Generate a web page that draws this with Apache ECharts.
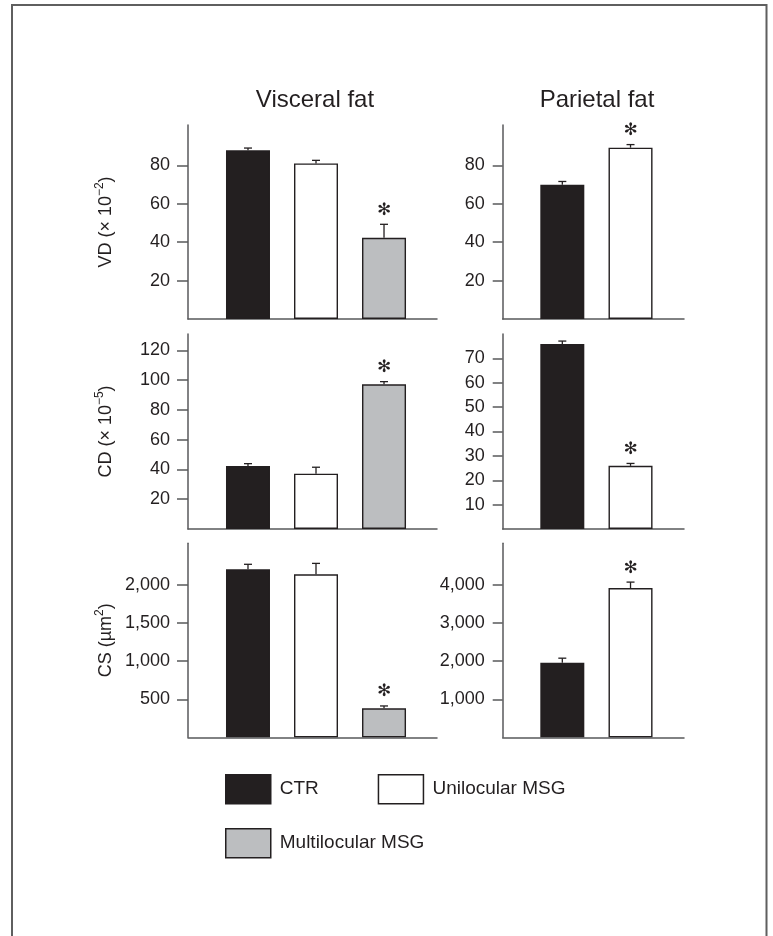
<!DOCTYPE html>
<html>
<head>
<meta charset="utf-8">
<script src="https://cdn.jsdelivr.net/npm/echarts@6/dist/echarts.min.js"></script>
<style>
html,body{margin:0;padding:0;background:#fff;}
#chart{width:773px;height:936px;}
</style>
</head>
<body>
<div id="chart"></div>
<script>
// ---- data ----
const groups = ['CTR', 'Unilocular MSG', 'Multilocular MSG'];
const columnTitles = ['Visceral fat', 'Parietal fat'];
const rowNames = ['{a|VD (× 10}{s|−2}{a|)}', '{a|CD (× 10}{s|−5}{a|)}', '{a|CS (µm}{s|2}{a|)}'];

const vdVisceral = [87.8, 81.0, 42.3];
const vdVisceralErr = [1.2, 1.6, 7.0];
const vdParietal = [69.9, 89.2];
const vdParietalErr = [1.7, 1.6];

const cdVisceral = [42.3, 37.2, 97.2];
const cdVisceralErr = [1.6, 4.3, 1.8];
const cdParietal = [75.9, 25.9];
const cdParietalErr = [1.2, 1.0];

const csVisceral = [2208, 2142, 382];
const csVisceralErr = [66, 144, 30];
const csParietal = [1957, 3924];
const csParietalErr = [123, 156];

const sigVisceral = [0, 0, 1];
const sigParietal = [0, 1];

const vdTicks = [20, 40, 60, 80];
const cdVisceralTicks = [20, 40, 60, 80, 100, 120];
const cdParietalTicks = [10, 20, 30, 40, 50, 60, 70];
const csVisceralTicks = [500, 1000, 1500, 2000];
const csParietalTicks = [1000, 2000, 3000, 4000];

// ---- layout / style ----
const INK = '#231f20';
const AXIS = '#58595b';
const fills = ['#231f20', '#ffffff', '#bcbec0'];
const FONT = '"Liberation Sans", Arial, sans-serif';

const colLeft = [188, 502.7];
const colWidth = [249, 181.3];
const colXRange = [[-0.882, 2.779], [-0.874, 1.784]];
const rowTop = [125, 334, 543.3];
const rowHeight = [194, 195, 194];

const panels = [
  {row: 0, col: 0, vals: vdVisceral, err: vdVisceralErr, sig: sigVisceral, ticks: vdTicks, max: 101},
  {row: 0, col: 1, vals: vdParietal, err: vdParietalErr, sig: sigParietal, ticks: vdTicks, max: 101},
  {row: 1, col: 0, vals: cdVisceral, err: cdVisceralErr, sig: sigVisceral, ticks: cdVisceralTicks, max: 131},
  {row: 1, col: 1, vals: cdParietal, err: cdParietalErr, sig: sigParietal, ticks: cdParietalTicks, max: 80},
  {row: 2, col: 0, vals: csVisceral, err: csVisceralErr, sig: sigVisceral, ticks: csVisceralTicks, max: 2550},
  {row: 2, col: 1, vals: csParietal, err: csParietalErr, sig: sigParietal, ticks: csParietalTicks, max: 5100}
];

const grid = [], xAxis = [], yAxis = [], series = [];
panels.forEach((p, k) => {
  grid.push({left: colLeft[p.col], top: rowTop[p.row], width: colWidth[p.col], height: rowHeight[p.row], containLabel: false});
  xAxis.push({
    type: 'value', gridIndex: k, min: colXRange[p.col][0], max: colXRange[p.col][1],
    axisLine: {show: true, onZero: false, lineStyle: {color: AXIS, width: 1.5}},
    axisTick: {show: false}, axisLabel: {show: false}, splitLine: {show: false}
  });
  yAxis.push({
    type: 'value', gridIndex: k, min: 0, max: p.max,
    name: p.col === 0 ? rowNames[p.row] : '',
    nameLocation: 'middle', nameRotate: 90, nameGap: 70,
    nameTextStyle: {
      fontFamily: FONT, fontSize: 18, color: INK,
      rich: {
        a: {fontFamily: FONT, fontSize: 18, color: INK, lineHeight: 24},
        s: {fontFamily: FONT, fontSize: 12, color: INK, lineHeight: 14, verticalAlign: 'top'}
      }
    },
    axisLine: {show: true, onZero: false, lineStyle: {color: AXIS, width: 1.5}},
    axisTick: {show: true, length: p.col === 0 ? 11 : 10, customValues: p.ticks, lineStyle: {color: AXIS, width: 1.5}},
    axisLabel: {
      show: true, customValues: p.ticks, margin: 18,
      fontFamily: FONT, fontSize: 18, color: INK,
      formatter: v => Number(v).toLocaleString('en-US')
    },
    splitLine: {show: false}
  });
  p.vals.forEach((v, i) => {
    series.push({
      type: 'bar', name: groups[i], xAxisIndex: k, yAxisIndex: k,
      barWidth: 44, barGap: '-100%',
      data: [[i, v]],
      itemStyle: {color: fills[i], borderColor: INK, borderWidth: 1.4},
      emphasis: {disabled: true}, silent: true, z: 2
    });
  });
  series.push({
    type: 'custom', xAxisIndex: k, yAxisIndex: k, z: 5, silent: true,
    encode: {x: 0, y: 1},
    data: p.vals.map((v, i) => [i, v, p.err[i], p.sig[i]]),
    renderItem: function (params, api) {
      const x = api.value(0), v = api.value(1), e = api.value(2), s = api.value(3);
      const top = api.coord([x, v]);
      const cap = api.coord([x, v + e]);
      const children = [
        {type: 'line', shape: {x1: top[0], y1: top[1], x2: cap[0], y2: cap[1]}, style: {stroke: INK, lineWidth: 1.3}},
        {type: 'line', shape: {x1: cap[0] - 4, y1: cap[1], x2: cap[0] + 4, y2: cap[1]}, style: {stroke: INK, lineWidth: 1.3}}
      ];
      if (s) {
        children.push({type: 'text', x: cap[0], y: cap[1] - 14,
          style: {text: '✻', font: '17px "DejaVu Sans"', fill: INK, align: 'center', verticalAlign: 'middle'}});
      }
      return {type: 'group', children: children};
    }
  });
});

function legendItem(i, left, top) {
  return {
    data: [{name: groups[i], icon: 'rect', itemStyle: {color: fills[i], borderColor: INK, borderWidth: 1.5}}],
    left: left, top: top, padding: 0, itemWidth: 45, itemHeight: 29,
    selectedMode: false,
    textStyle: {fontFamily: FONT, fontSize: 19, color: INK, padding: [0, 0, 0, 4]}
  };
}

const chart = echarts.init(document.getElementById('chart'), null, {renderer: 'canvas'});
chart.setOption({
  backgroundColor: '#fff',
  animation: false,
  grid: grid, xAxis: xAxis, yAxis: yAxis, series: series,
  legend: [legendItem(0, 225, 774), legendItem(1, 377.7, 774), legendItem(2, 225, 828)],
  graphic: [
    {type: 'rect', shape: {x: 12, y: 5, width: 754.5, height: 1000}, style: {fill: 'none', stroke: '#5f5f5f', lineWidth: 2}, silent: true},
    {type: 'text', x: 315, y: 100, style: {text: columnTitles[0], font: '24px ' + FONT, fill: INK, align: 'center', verticalAlign: 'middle'}},
    {type: 'text', x: 597, y: 100, style: {text: columnTitles[1], font: '24px ' + FONT, fill: INK, align: 'center', verticalAlign: 'middle'}}
  ]
});
</script>
</body>
</html>
